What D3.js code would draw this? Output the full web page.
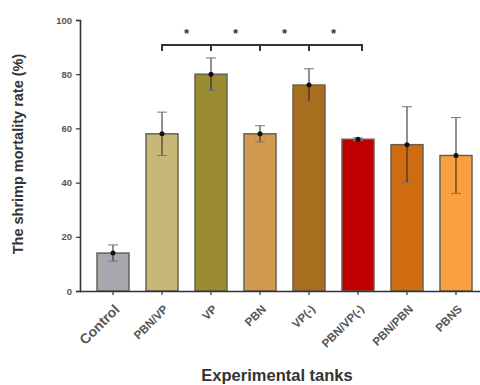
<!DOCTYPE html>
<html>
<head>
<meta charset="utf-8">
<script src="https://cdn.jsdelivr.net/npm/d3@7"></script>
<style>
body{margin:0;background:#fff;}
svg{display:block;font-family:Arial,"Liberation Sans",sans-serif;}
</style>
</head>
<body>
<div id="chart"></div>
<script>
var tanks = ["Control","PBN/VP","VP","PBN","VP(-)","PBN/VP(-)","PBN/PBN","PBNS"];
var mortality = [14,58,80,58,76,56,54,50];
var errs = [3,8,6,3,6,0.5,14,14];
var colors = ["#a8a8ae","#c8b878","#9a8a30","#d09a50","#a86e20","#c00000","#d06c10","#f8a040"];
var yTicks = [0,20,40,60,80,100];
// significance pairs (index of left bar, index of right bar)
var sigPairs = [[1,2],[2,3],[3,4],[4,5]];

var width = 480, height = 385;
var svg = d3.select("#chart").append("svg")
    .attr("width", width)
    .attr("height", height);

var x = d3.scaleBand()
    .domain(tanks)
    .range([80, 489])
    .paddingInner(0.347)
    .paddingOuter(0.347);
var y = d3.scaleLinear()
    .domain([0, 100])
    .range([291, 20]);

// y axis
var yAxis = svg.append("g")
    .attr("transform", "translate(80,0)")
    .call(d3.axisLeft(y).tickValues(yTicks).tickSize(4).tickPadding(4));
yAxis.select(".domain").attr("stroke", "#333").attr("stroke-width", 1.6);
yAxis.selectAll(".tick line").attr("stroke", "#333").attr("stroke-width", 1.2);
yAxis.selectAll("text").attr("font-size", 9.5).attr("font-weight", "bold").attr("fill", "#555");

// bars
svg.selectAll("rect.bar").data(tanks).enter()
    .append("rect")
    .attr("class", "bar")
    .attr("x", d => x(d))
    .attr("width", x.bandwidth())
    .attr("y", (d,i) => y(mortality[i]))
    .attr("height", (d,i) => y(0) - y(mortality[i]))
    .attr("fill", (d,i) => colors[i])
    .attr("stroke", "#6a6050")
    .attr("stroke-width", 1.5);

// error bars
var eb = svg.selectAll("g.err").data(tanks).enter().append("g").attr("class","err");
eb.append("line")
    .attr("x1", d => x(d) + x.bandwidth()/2)
    .attr("x2", d => x(d) + x.bandwidth()/2)
    .attr("y1", (d,i) => y(mortality[i] + errs[i]))
    .attr("y2", (d,i) => y(mortality[i] - errs[i]))
    .attr("stroke", "#222").attr("stroke-width", 1);
[1,-1].forEach(function(s){
  eb.append("line")
    .attr("x1", d => x(d) + x.bandwidth()/2 - 5)
    .attr("x2", d => x(d) + x.bandwidth()/2 + 5)
    .attr("y1", (d,i) => y(mortality[i] + s*errs[i]))
    .attr("y2", (d,i) => y(mortality[i] + s*errs[i]))
    .attr("stroke", "#777").attr("stroke-width", 1);
});
eb.append("circle")
    .attr("cx", d => x(d) + x.bandwidth()/2)
    .attr("cy", (d,i) => y(mortality[i]))
    .attr("r", 2.5)
    .attr("fill", "#111");

// x axis
var xAxis = svg.append("g")
    .attr("transform", "translate(0,291)")
    .call(d3.axisBottom(x).tickSize(4).tickSizeOuter(0));
xAxis.select(".domain").attr("stroke", "#333").attr("stroke-width", 1.6)
    .attr("d", "M80,0.5H480");
xAxis.selectAll(".tick line").attr("stroke", "#333").attr("stroke-width", 1.2);
xAxis.selectAll("text")
    .attr("font-size", 11.5)
    .attr("font-weight", "bold")
    .attr("fill", "#555")
    .attr("text-anchor", "end")
    .attr("dy", "0.35em")
    .attr("transform", "translate(-1,11) rotate(-45)");
xAxis.selectAll("text").filter(d => d === "Control").attr("font-size", 14);

// significance bracket
var cx = d => x(d) + x.bandwidth()/2;
var by = 45;
svg.append("line")
    .attr("x1", cx(tanks[1])).attr("x2", cx(tanks[5]) + 4)
    .attr("y1", by).attr("y2", by)
    .attr("stroke", "#333").attr("stroke-width", 2);
[1,2,3,4,5].forEach(function(i){
  var xx = i === 5 ? cx(tanks[5]) + 4 : cx(tanks[i]);
  svg.append("line")
    .attr("x1", xx).attr("x2", xx)
    .attr("y1", by - 1).attr("y2", by + 6)
    .attr("stroke", "#333").attr("stroke-width", 2);
});
svg.selectAll("text.star").data(sigPairs).enter()
    .append("text")
    .attr("class", "star")
    .attr("x", d => (cx(tanks[d[0]]) + cx(tanks[d[1]])) / 2)
    .attr("y", 38)
    .attr("text-anchor", "middle")
    .attr("font-size", 13)
    .attr("font-weight", "bold")
    .attr("fill", "#333")
    .text("*");

// axis titles
svg.append("text")
    .attr("transform", "translate(23,154) rotate(-90)")
    .attr("text-anchor", "middle")
    .attr("font-size", 14.5)
    .attr("font-weight", "bold")
    .attr("fill", "#333")
    .text("The shrimp mortality rate (%)");
svg.append("text")
    .attr("x", 277)
    .attr("y", 381)
    .attr("text-anchor", "middle")
    .attr("font-size", 16.5)
    .attr("font-weight", "bold")
    .attr("fill", "#333")
    .text("Experimental tanks");
</script>
</body>
</html>
